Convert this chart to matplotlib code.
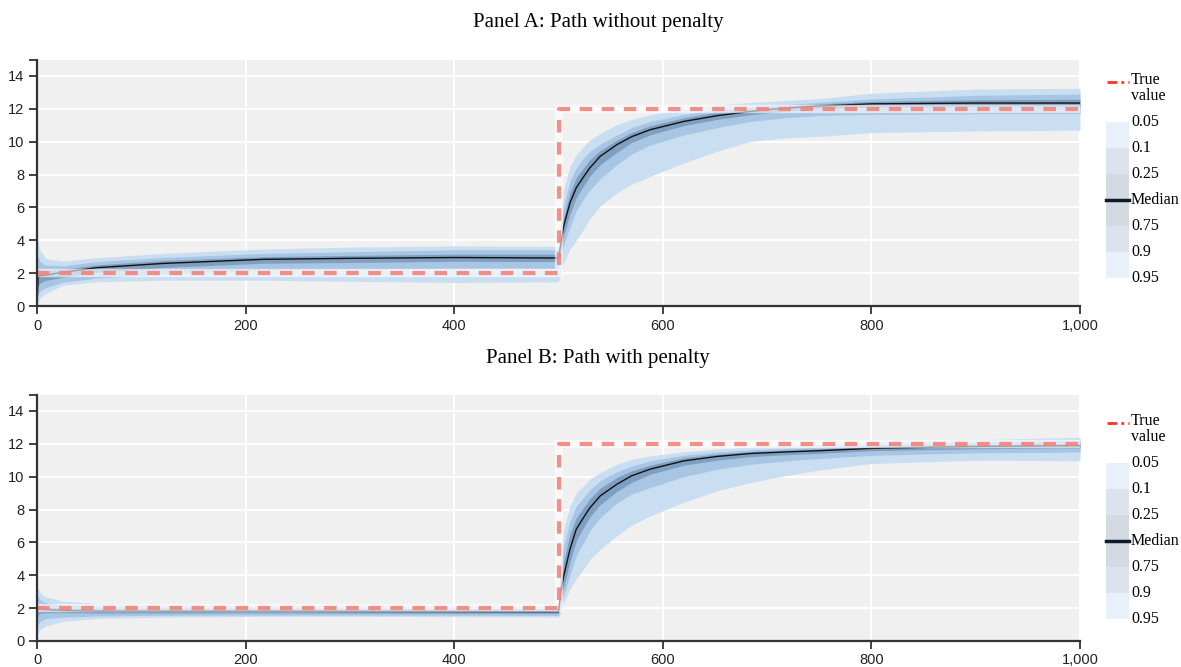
import matplotlib
matplotlib.use("Agg")
import matplotlib.pyplot as plt
from matplotlib.patches import Rectangle

# sample points along the path (same for both panels)
steps = [0, 1, 3, 8, 25, 57, 121, 217, 300, 400, 500,
         502, 505, 511, 517, 524, 530, 540, 556, 570, 588, 620, 652, 684, 716, 750, 800, 900, 1000]

# true parameter path
true_x = [0, 500, 500, 1000]
true_y = [2, 2, 12, 12]

# Panel A: quantiles of the estimated path without penalty
a_q95 = [4.3, 4.0, 3.4, 2.9, 2.73, 2.94, 3.2, 3.47, 3.58, 3.66, 3.63,
         5.5, 7.1, 8.5, 9.2, 9.7, 10.1, 10.5, 11.03, 11.35, 11.64, 12.0, 12.24, 12.38, 12.5, 12.62, 12.95, 13.2, 13.25]
a_q90 = [3.2, 3.0, 2.7, 2.5, 2.45, 2.7, 2.95, 3.2, 3.3, 3.42, 3.42,
         4.8, 6.1, 7.6, 8.4, 9.0, 9.4, 9.85, 10.4, 10.85, 11.23, 11.65, 11.95, 12.1, 12.25, 12.4, 12.6, 12.82, 12.9]
a_q75 = [1.5, 2.3, 2.2, 2.15, 2.25, 2.5, 2.77, 3.0, 3.08, 3.15, 3.15,
         4.2, 5.4, 6.9, 7.8, 8.4, 8.9, 9.45, 10.1, 10.55, 10.97, 11.45, 11.8, 11.98, 12.15, 12.3, 12.45, 12.55, 12.58]
a_q50 = [0.0, 1.8, 1.85, 1.88, 2.05, 2.33, 2.59, 2.84, 2.9, 2.95, 2.92,
         3.7, 4.87, 6.28, 7.19, 7.86, 8.4, 9.11, 9.82, 10.3, 10.73, 11.23, 11.58, 11.84, 12.04, 12.17, 12.3, 12.35, 12.35]
a_q25 = [0.0, 1.2, 1.4, 1.55, 1.75, 2.05, 2.35, 2.6, 2.65, 2.72, 2.7,
         3.3, 4.3, 5.6, 6.6, 7.3, 7.9, 8.6, 9.35, 9.95, 10.42, 10.98, 11.35, 11.64, 11.85, 12.0, 12.1, 12.15, 12.17]
a_q10 = [0.0, 0.7, 0.9, 1.1, 1.45, 1.7, 1.95, 2.2, 2.25, 2.3, 2.3,
         2.9, 3.7, 4.8, 5.8, 6.5, 7.05, 7.75, 8.6, 9.25, 9.8, 10.4, 10.85, 11.23, 11.45, 11.6, 11.65, 11.7, 11.7]
a_q05 = [0.0, 0.2, 0.5, 0.75, 1.27, 1.47, 1.57, 1.57, 1.5, 1.43, 1.47,
         1.9, 2.65, 3.45, 4.0, 4.67, 5.3, 6.08, 6.89, 7.4, 7.9, 8.7, 9.41, 10.02, 10.22, 10.32, 10.55, 10.65, 10.7]

# Panel B: quantiles of the estimated path with penalty
b_q95 = [3.45, 3.2, 2.95, 2.7, 2.42, 2.28, 2.2, 2.16, 2.14, 2.12, 2.1,
         5.0, 6.8, 8.22, 9.0, 9.44, 9.85, 10.25, 10.76, 11.05, 11.27, 11.51, 11.68, 11.8, 11.88, 11.97, 12.1, 12.25, 12.4]
b_q90 = [2.9, 2.7, 2.5, 2.35, 2.2, 2.1, 2.05, 2.02, 2.0, 1.98, 1.97,
         4.3, 5.8, 7.3, 8.2, 8.73, 9.2, 9.75, 10.3, 10.65, 10.96, 11.3, 11.5, 11.63, 11.72, 11.8, 11.95, 12.1, 12.2]
b_q75 = [2.3, 2.2, 2.15, 2.08, 2.0, 1.95, 1.92, 1.9, 1.9, 1.88, 1.87,
         3.6, 4.9, 6.5, 7.5, 8.12, 8.65, 9.3, 9.95, 10.35, 10.7, 11.15, 11.38, 11.53, 11.62, 11.7, 11.83, 11.95, 12.02]
b_q50 = [1.6, 2.05, 1.98, 1.92, 1.86, 1.82, 1.81, 1.81, 1.8, 1.79, 1.78,
         2.9, 3.96, 5.58, 6.8, 7.51, 8.1, 8.83, 9.54, 10.05, 10.46, 10.96, 11.23, 11.41, 11.5, 11.58, 11.72, 11.84, 11.89]
b_q25 = [1.2, 1.6, 1.7, 1.72, 1.72, 1.7, 1.7, 1.71, 1.7, 1.69, 1.68,
         2.5, 3.3, 4.8, 6.1, 6.9, 7.55, 8.3, 9.1, 9.65, 10.15, 10.7, 11.0, 11.22, 11.33, 11.42, 11.58, 11.7, 11.75]
b_q10 = [0.6, 1.0, 1.2, 1.35, 1.45, 1.52, 1.57, 1.58, 1.58, 1.57, 1.56,
         2.1, 2.8, 4.0, 5.2, 5.99, 6.7, 7.5, 8.4, 8.95, 9.34, 10.0, 10.45, 10.75, 10.95, 11.1, 11.3, 11.45, 11.5]
b_q05 = [0.1, 0.4, 0.7, 0.9, 1.2, 1.37, 1.45, 1.5, 1.5, 1.48, 1.45,
         1.73, 2.34, 3.15, 3.8, 4.37, 4.95, 5.58, 6.4, 7.05, 7.61, 8.43, 9.14, 9.64, 10.05, 10.4, 10.8, 11.0, 10.97]

legend_labels = ["0.05", "0.1", "0.25", "Median", "0.75", "0.9", "0.95"]
titles = ["Panel A: Path without penalty", "Panel B: Path with penalty"]

W, H = 1181, 667
fig = plt.figure(figsize=(W / 100, H / 100), dpi=100)

SERIF = ["Liberation Serif", "DejaVu Serif"]
SANS = ["Liberation Sans", "DejaVu Sans"]


def box(x0, y0, x1, y1):
    # pixel box (top-left origin) -> figure fraction
    return [x0 / W, 1 - y1 / H, (x1 - x0) / W, (y1 - y0) / H]


def draw_panel(ax, q05, q10, q25, q50, q75, q90, q95):
    ax.set_facecolor("#f0f0f0")
    ax.fill_between(steps, q05, q95, color="#cadef2", lw=0, zorder=2)
    ax.fill_between(steps, q10, q90, color="#a8c5e3", lw=0, zorder=3)
    ax.fill_between(steps, q25, q75, color="#7f9fc0", lw=0, zorder=4)
    ax.plot(steps, q50, color="#111111", lw=1.0, zorder=5)
    # true value: white halo + salmon dashes
    ax.plot(true_x, true_y, color="white", lw=6, alpha=0.6, zorder=6, solid_joinstyle="miter")
    ax.plot(true_x, true_y, color="#f4837a", lw=3, alpha=0.9, zorder=7,
            dashes=(3, 2.3), solid_joinstyle="miter")

    ax.set_xlim(0, 1000)
    ax.set_ylim(0, 15)
    ax.set_xticks([0, 200, 400, 600, 800, 1000])
    ax.set_xticklabels(["0", "200", "400", "600", "800", "1,000"])
    ax.set_yticks([0, 2, 4, 6, 8, 10, 12, 14, 15])
    ax.set_yticklabels(["0", "2", "4", "6", "8", "10", "12", "14", ""])
    for lab in ax.get_xticklabels() + ax.get_yticklabels():
        lab.set_family(SANS)
        lab.set_fontsize(10.5)
        lab.set_color("#222222")
    ax.tick_params(direction="out", length=6, width=1.3, color="#333333", pad=3)
    ax.grid(True, color="white", lw=1.4, zorder=1)
    ax.set_axisbelow(True)
    ax.yaxis.get_gridlines()[-1].set_visible(False)
    for s in ["top", "right"]:
        ax.spines[s].set_visible(False)
    for s in ["left", "bottom"]:
        ax.spines[s].set_color("#333333")
        ax.spines[s].set_linewidth(1.6)
        ax.spines[s].set_zorder(8)


def draw_legend(dy):
    lax = fig.add_axes(box(1100, 66 + dy, 1181, 292 + dy))
    lax.set_xlim(1100, 1181)
    lax.set_ylim(292 + dy, 66 + dy)
    lax.axis("off")
    lax.plot([1107, 1129], [82 + dy, 82 + dy], color="#ff3326", lw=2, dashes=(3.5, 1.5, 1, 1.5))
    lax.text(1131, 80 + dy, "True", family=SERIF, fontsize=11.5, va="center", ha="left")
    lax.text(1131, 96 + dy, "value", family=SERIF, fontsize=11.5, va="center", ha="left")
    seg_colors = ["#e8f0fa", "#dce3ec", "#d3dae2", "#d3dae2", "#dce3ec", "#e8f0fa"]
    for i, c in enumerate(seg_colors):
        lax.add_patch(Rectangle((1106, 122 + dy + 26 * i), 23, 26, color=c, lw=0))
    lax.plot([1106, 1129], [200 + dy, 200 + dy], color="#0d1b2a", lw=2.5)
    for i, lab in enumerate(legend_labels):
        lax.text(1131, 122 + dy + 26 * i, lab, family=SERIF, fontsize=11.5, va="center", ha="left")


ax_a = fig.add_axes(box(37, 59.5, 1080, 306))
draw_panel(ax_a, a_q05, a_q10, a_q25, a_q50, a_q75, a_q90, a_q95)
ax_b = fig.add_axes(box(37, 394.5, 1080, 641))
draw_panel(ax_b, b_q05, b_q10, b_q25, b_q50, b_q75, b_q90, b_q95)

draw_legend(0)
draw_legend(341)

fig.text(598 / W, 1 - 22 / H, titles[0], family=SERIF, fontsize=15, ha="center", va="center")
fig.text(598 / W, 1 - 358 / H, titles[1], family=SERIF, fontsize=15, ha="center", va="center")

fig.savefig("out.png", dpi=100)
